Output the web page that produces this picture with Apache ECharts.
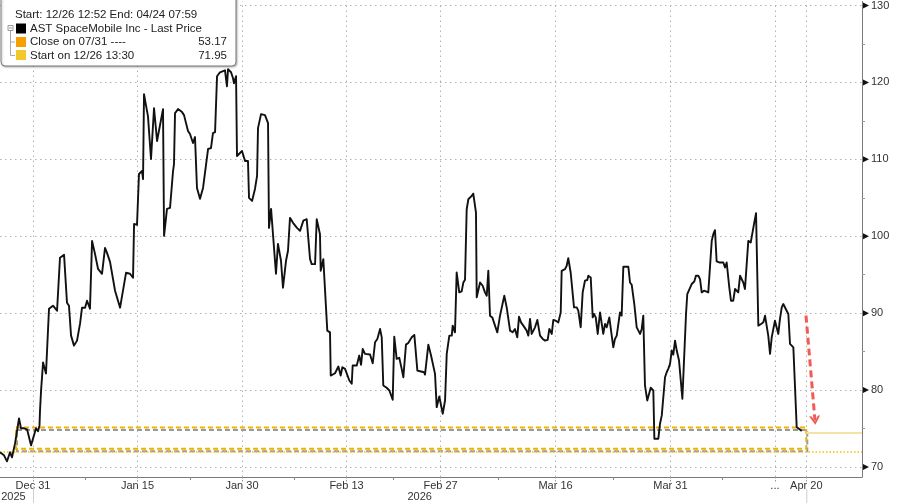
<!DOCTYPE html>
<html><head><meta charset="utf-8">
<script src="https://cdn.jsdelivr.net/npm/echarts@6/dist/echarts.min.js"></script>
<style>html,body{margin:0;padding:0;background:#fff}#c{width:900px;height:503px}</style>
</head><body><div id="c"></div>
<script>
// x = trading-day index (Dec 31 2025 = 0), y = price
const tickDays = [0, 10, 20, 30, 39, 50, 61, 71, 74];
const tickLabels = ['Dec 31', 'Jan 15', 'Jan 30', 'Feb 13', 'Feb 27', 'Mar 16', 'Mar 31', '...', 'Apr 20'];
const minorDays = [5, 15, 25, 34.5, 44.5, 55.5, 66];
const yearDays = [-1.87, 37];
const yearLabels = ['2025', '2026'];
const priceTicks = [70, 80, 90, 100, 110, 120, 130];
const priceMinorTicks = [75, 85, 95, 105, 115, 125];

const dayIdx = [
 -3.16,-2.78,-2.49,-2.20,-2.01,-1.72,-1.53,-1.34,-1.15,-0.86,-0.57,-0.19,0,0.29,0.48,0.62,0.67,0.77,0.96,1.24,1.53,1.91,2.30,2.58,2.97,3.25,3.44,3.64,3.92,4.21,4.50,4.69,4.98,5.17,5.45,5.65,5.93,6.22,6.60,6.89,7.08,7.37,7.56,7.85,8.04,8.33,8.90,9.28,9.57,9.67,9.95,10.14,10.43,10.53,10.62,10.91,11.00,11.29,11.58,11.87,12.06,12.44,12.54,12.82,13.11,13.40,13.49,13.59,13.88,14.26,14.45,14.83,15.02,15.31,15.50,15.69,15.98,16.27,16.46,16.75,17.03,17.22,17.42,17.61,17.89,18.37,18.56,18.66,18.95,19.14,19.23,19.43,19.52,20.00,20.29,20.57,20.67,20.96,21.24,21.44,21.53,21.82,22.20,22.49,22.58,22.78,22.97,23.25,23.44,23.73,23.92,24.21,24.40,24.59,24.88,25.26,25.55,
 25.87,26.19,26.34,26.51,26.67,26.99,27.15,27.46,27.53,27.78,27.94,28.16,28.42,28.49,28.90,29.22,29.44,29.60,29.86,30.02,30.27,30.50,30.59,30.98,31.22,31.39,31.55,31.77,32.25,32.51,32.73,32.95,33.21,33.37,33.52,33.84,34.10,34.42,34.57,34.80,35.05,35.28,35.44,35.69,35.91,36.24,36.49,36.78,37.03,37.42,37.51,37.83,38.09,38.47,38.63,38.88,39.01,39.21,39.43,39.59,39.84,40.07,40.16,40.38,40.54,40.79,41.02,41.18,41.34,41.50,41.66,41.98,42.13,42.39,42.46,42.78,43.03,43.25,43.42,43.57,43.73,43.95,44.21,44.43,44.69,44.85,45.10,45.33,45.65,45.90,46.12,46.34,46.51,46.70,46.92,47.24,47.40,47.56,47.72,48.04,48.26,48.52,48.78,49.00,49.25,49.41,49.54,49.64,49.79,50.02,50.27,50.50,50.59,50.91,51.07,51.22,51.45,51.77,52.03,52.18,52.41,52.60,52.82,53.04,53.14,53.37,53.56,53.68,53.85,54.04,54.26,54.42,54.57,54.74,54.90,55.15,55.38,55.53,55.69,55.86,56.17,56.33,56.49,56.97,57.13,57.29,57.54,57.77,57.92,58.09,58.25,58.40,58.56,58.78,58.97,59.11,59.36,
 59.46,59.84,60.00,60.17,60.32,60.48,60.64,60.79,60.96,61.12,61.27,61.44,61.60,61.82,61.98,62.14,62.30,62.49,62.61,62.80,63.03,63.28,63.44,63.67,63.83,63.99,64.21,64.40,64.62,64.95,65.10,65.26,65.42,65.67,66.06,66.22,66.38,66.63,66.79,67.01,67.18,67.34,67.49,67.66,67.82,67.97,68.13,68.30,68.45,68.68,68.87,69.02,69.19,69.35,69.41,69.67,69.89,70.05,70.14,70.36,70.53,70.69,70.84,71.00,71.17,71.32,71.48,71.65,71.80,71.96,72.12,72.28,72.44,72.60,72.76,73.08,73.24,73.56
];
const price = [
 71.91,71.52,70.74,71.91,71.26,73.07,72.81,76.32,75.03,75.03,74.90,72.81,72.94,75.03,74.64,75.41,77.35,79.95,83.58,82.15,90.58,90.97,90.32,97.20,97.58,91.36,90.97,87.08,85.78,86.43,88.64,90.71,90.71,91.62,90.58,99.40,97.71,95.77,95.12,98.49,97.84,96.67,96.54,92.91,92.66,90.71,95.25,95.12,94.60,101.60,101.48,108.09,108.48,107.44,118.47,116.27,115.62,110.04,116.66,112.38,112.51,116.53,100.06,103.55,103.68,108.48,109.39,116.01,116.53,116.14,115.75,113.68,113.29,112.12,112.90,106.28,104.86,106.28,106.41,111.34,111.46,113.41,113.54,120.80,121.32,121.58,119.50,121.71,121.32,120.54,119.89,120.80,110.43,111.08,109.78,109.78,104.98,104.59,106.15,107.84,114.06,115.88,115.75,114.71,101.09,103.55,103.55,95.12,99.01,96.81,93.31,96.81,98.11,102.39,101.74,101.09,100.70,
 102.03,102.22,102.03,97.03,96.38,96.38,102.22,100.27,95.51,97.03,97.03,87.73,87.51,81.89,82.19,83.06,81.89,82.97,82.76,82.54,81.25,80.82,83.19,83.19,84.49,83.28,85.36,84.71,84.62,83.49,86.21,86.65,87.95,86.86,80.59,80.30,79.95,78.74,86.95,84.06,84.19,82.76,81.67,85.91,86.13,86.86,87.17,82.54,82.45,82.32,82.02,85.91,84.49,82.11,77.78,79.17,79.17,76.93,78.65,84.71,87.08,87.08,88.38,87.51,95.29,92.70,92.83,93.99,94.34,103.51,104.81,105.24,105.54,103.07,92.05,93.99,93.56,92.70,92.27,95.51,89.68,89.45,88.38,87.51,89.68,89.89,92.27,90.74,87.73,87.51,87.95,86.86,89.54,88.80,88.38,87.73,87.08,89.25,87.30,88.16,89.11,87.08,86.65,86.43,86.52,87.95,88.16,87.30,89.11,89.02,88.80,90.10,95.51,95.73,96.16,97.16,95.29,90.75,90.75,90.32,88.16,92.70,94.22,94.31,94.86,94.64,89.45,89.89,89.45,87.30,90.10,90.32,87.30,88.60,88.16,89.45,87.08,85.56,86.65,87.08,90.10,89.68,96.03,96.03,93.99,93.70,91.19,88.16,87.95,87.30,87.95,89.68,80.60,78.65,78.65,80.30,79.95,
 73.68,73.68,75.63,76.71,76.93,81.67,82.32,82.76,83.41,85.14,84.62,86.43,85.14,83.84,83.84,78.87,79.08,89.89,92.49,92.70,93.79,94.12,94.86,94.86,94.43,92.70,92.92,93.14,92.70,99.40,100.27,100.79,96.72,96.59,96.59,95.94,96.59,93.35,91.62,91.62,93.14,92.92,92.70,94.86,94.86,93.99,93.14,93.14,99.40,99.18,99.18,101.78,103.00,103.00,88.38,88.60,88.81,89.68,89.45,87.08,84.71,86.86,86.95,89.02,88.80,87.30,89.25,90.75,91.19,90.97,90.32,89.89,86.00,85.78,85.56,75.19,74.98,74.67
];
const startValue = 71.95;
const closeValue = 53.17;
const lastLineValue = 74.5;
const boxDays = [-1.63, 74.0];
const boxPrices = [72.36, 75.15];
const arrowFrom = [73.97, 89.68];
const arrowTo = [74.83, 76.06];

const X_MIN = -3.16, X_MAX = 79.33, Y_MIN = 68.7, Y_MAX = 130.52;
const FONT = '"Liberation Sans", Arial, sans-serif';
const gridDot = { color: '#b2b2b2', width: 1, type: [1.5, 3.5] };

const chart = echarts.init(document.getElementById('c'), null, { renderer: 'canvas' });

const option = {
  animation: false,
  backgroundColor: '#fff',
  grid: { left: 0, right: 38, top: 0, bottom: 26 },
  xAxis: [{
    type: 'value', min: X_MIN, max: X_MAX, position: 'bottom',
    axisLine: { show: true, onZero: false, lineStyle: { color: '#7a7a7a', width: 1 } },
    axisTick: { show: true, customValues: tickDays, length: 5, lineStyle: { color: '#999', type: [1.5, 1.5] } },
    axisLabel: { show: true, customValues: tickDays, margin: 3, color: '#333', fontSize: 11, fontFamily: FONT,
      formatter: v => tickLabels[tickDays.indexOf(v)] },
    splitLine: { show: false }
  }, {
    type: 'value', min: X_MIN, max: X_MAX, position: 'bottom',
    axisLine: { show: false, onZero: false },
    axisTick: { show: true, customValues: minorDays, length: 3, lineStyle: { color: '#888' } },
    axisLabel: { show: false }, splitLine: { show: false }
  }],
  yAxis: {
    type: 'value', position: 'right', min: Y_MIN, max: Y_MAX,
    axisLine: { show: true, onZero: false, lineStyle: { color: '#7a7a7a', width: 1 } },
    axisTick: { show: true, customValues: priceMinorTicks, length: 3, lineStyle: { color: '#999' } },
    axisLabel: { show: true, customValues: priceTicks, margin: 9, color: '#333', fontSize: 11, fontFamily: FONT },
    splitLine: { show: false }
  },
  series: [{
    name: 'grid', type: 'line', data: [], z: 1, silent: true,
    markLine: { silent: true, symbol: ['none', 'none'], label: { show: false }, animation: false,
      lineStyle: gridDot,
      data: priceTicks.map(v => ({ yAxis: v })).concat(tickDays.map(d => ({ xAxis: d }))) }
  }, {
    name: 'Start on 12/26 13:30', type: 'line', data: [], z: 2, silent: true,
    markLine: { silent: true, symbol: ['none', 'none'], label: { show: false }, animation: false,
      lineStyle: { color: '#f2c200', width: 1.5, type: [1.5, 2] },
      data: [{ yAxis: startValue }] }
  }, {
    name: 'box', type: 'line', data: [], z: 3, silent: true,
    markArea: { silent: true, animation: false,
      itemStyle: { color: 'rgba(0,0,0,0)', borderColor: '#f2b100', borderWidth: 2, borderType: [5, 3],
        shadowColor: 'rgba(70,70,70,0.55)', shadowBlur: 0, shadowOffsetX: 1, shadowOffsetY: 2.5 },
      data: [[{ coord: [boxDays[0], boxPrices[1]] }, { coord: [boxDays[1], boxPrices[0]] }]] }
  }, {
    name: 'last', type: 'line', data: [], z: 2, silent: true,
    markLine: { silent: true, symbol: ['none', 'none'], label: { show: false }, animation: false,
      lineStyle: { color: '#f4e3a6', width: 2, type: 'solid' },
      data: [[{ coord: [boxDays[1], lastLineValue] }, { coord: [X_MAX, lastLineValue] }]] }
  }, {
    name: 'AST SpaceMobile Inc - Last Price', type: 'line', z: 5,
    data: dayIdx.map((d, i) => [d, price[i]]),
    showSymbol: false, symbol: 'none',
    lineStyle: { color: '#111', width: 1.9, join: 'round' }
  }, {
    name: 'arrow', type: 'line', data: [], z: 6, silent: true,
    markLine: { silent: true, animation: false, label: { show: false },
      symbol: ['none', 'path://M0,10 L5,0 L10,10 L8,10 L5,4 L2,10 Z'], symbolSize: [11, 9],
      lineStyle: { color: '#f25a55', width: 3, type: [7, 4] },
      data: [[{ coord: arrowFrom }, { coord: arrowTo }]] }
  }]
};
chart.setOption(option);

// legend, year labels, axis tick arrows
const yearX = yearDays.map(d => chart.convertToPixel({ xAxisIndex: 0 }, d));
const sepX = [tickDays[0], tickDays[8]].map(d => chart.convertToPixel({ xAxisIndex: 0 }, d));
const axisX = chart.convertToPixel({ xAxisIndex: 0 }, X_MAX);
const tri = priceTicks.map(v => {
  const y = chart.convertToPixel({ yAxisIndex: 0 }, v);
  return { type: 'polygon', z: 60, shape: { points: [[axisX + 1, y - 3], [axisX + 7, y], [axisX + 1, y + 3]] }, style: { fill: '#111' } };
});
const LFONT = '11.5px ' + FONT;
const txt = (x, y, s, align, color, font) => ({ type: 'text', x: x, y: y, z: 100,
  style: { text: s, font: font || LFONT, fill: color || '#222', align: align || 'left', verticalAlign: 'middle',
    textAlign: align || 'left', textVerticalAlign: 'middle' } });
chart.setOption({
  graphic: tri.concat([
    { type: 'line', z: 50, shape: { x1: sepX[0] + 0.5, y1: 486, x2: sepX[0] + 0.5, y2: 503 }, style: { stroke: '#cfcfcf', lineWidth: 1 } },
    { type: 'line', z: 50, shape: { x1: sepX[1] + 0.5, y1: 489, x2: sepX[1] + 0.5, y2: 503 }, style: { stroke: '#cfcfcf', lineWidth: 1 } },
    txt(yearX[0], 497, yearLabels[0], 'center', '#333', '11px ' + FONT),
    txt(yearX[1], 497, yearLabels[1], 'center', '#333', '11px ' + FONT),
    { type: 'rect', z: 90, shape: { x: 1, y: -6, width: 235, height: 72, r: 4 },
      style: { fill: '#fff', stroke: '#7a7a7a', lineWidth: 1, shadowColor: 'rgba(0,0,0,0.25)', shadowBlur: 2, shadowOffsetX: 1, shadowOffsetY: 1 } },
    txt(15, 15, 'Start: 12/26 12:52 End: 04/24 07:59'),
    { type: 'rect', z: 100, shape: { x: 8, y: 25.5, width: 5, height: 5 }, style: { fill: '#fff', stroke: '#999', lineWidth: 1 } },
    { type: 'line', z: 100, shape: { x1: 9, y1: 28, x2: 12, y2: 28 }, style: { stroke: '#999', lineWidth: 1 } },
    { type: 'polyline', z: 100, shape: { points: [[10.5, 31], [10.5, 55.5], [15, 55.5]] }, style: { stroke: '#aaa', lineWidth: 1, fill: null } },
    { type: 'line', z: 100, shape: { x1: 10.5, y1: 42, x2: 15, y2: 42 }, style: { stroke: '#aaa', lineWidth: 1 } },
    { type: 'rect', z: 100, shape: { x: 16, y: 23.5, width: 10, height: 10 }, style: { fill: '#000' } },
    { type: 'rect', z: 100, shape: { x: 16, y: 37, width: 10, height: 10 }, style: { fill: '#f5a000' } },
    { type: 'rect', z: 100, shape: { x: 16, y: 50, width: 10, height: 10 }, style: { fill: '#f2c82a' } },
    txt(30, 29, 'AST SpaceMobile Inc - Last Price'),
    txt(30, 42, 'Close on 07/31 ----'),
    txt(227, 42, closeValue.toFixed(2), 'right'),
    txt(30, 55.5, 'Start on 12/26 13:30'),
    txt(227, 55.5, startValue.toFixed(2), 'right')
  ])
});
</script>
</body></html>
